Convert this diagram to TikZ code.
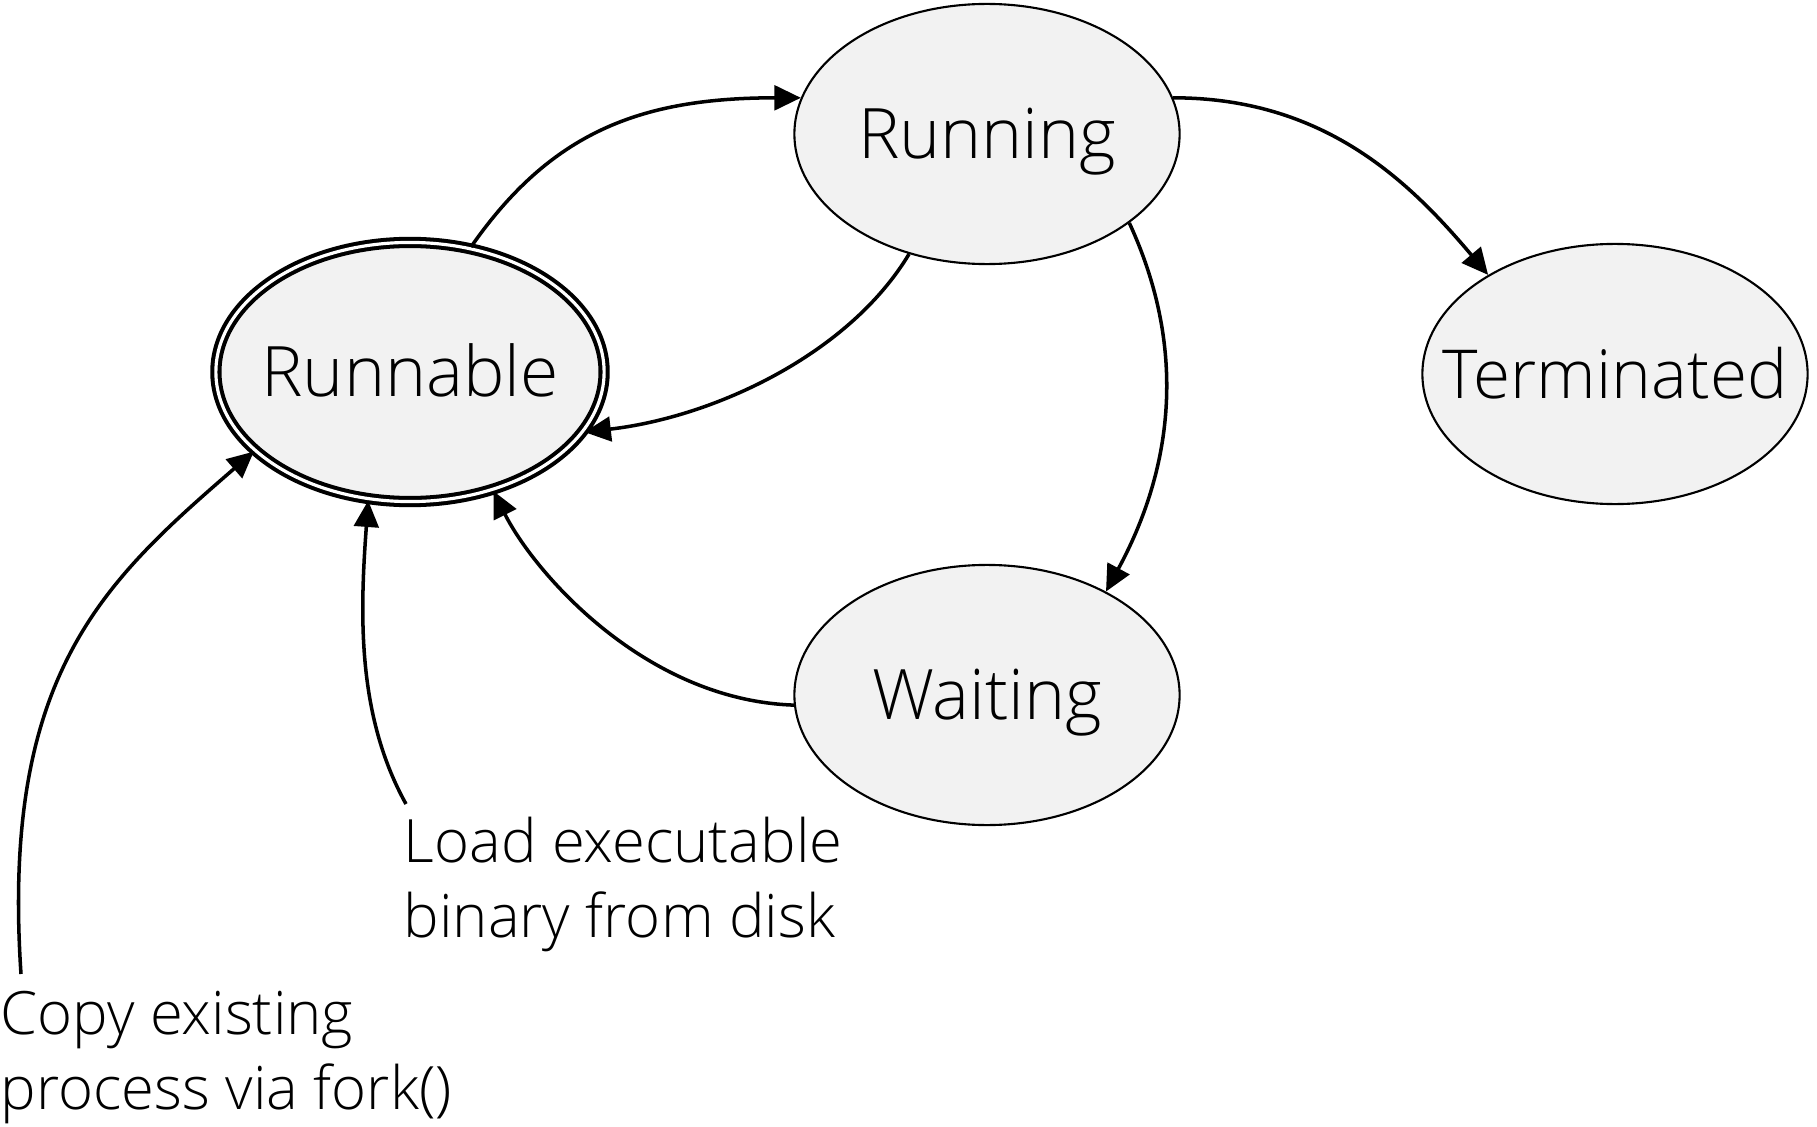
\documentclass[tikz,border=0pt]{standalone}
\usepackage{fontspec}
\setmainfont{Open Sans}[UprightFont=* Light]
\usetikzlibrary{shapes.geometric,arrows.meta}

\definecolor{zustandgrau}{HTML}{F2F2F2}

\tikzset{
	zustand/.style={ellipse, draw=black, line width=0.6pt, fill=zustandgrau,
		minimum width=3.85cm, minimum height=2.6cm, inner sep=0pt,
		font=\fontsize{19.8}{23}\selectfont, text height=14.2pt, text depth=0pt},
	pfeil/.style={line width=1pt, -{Triangle[length=7.5pt,width=7pt]}},
	hinweis/.style={align=left, inner sep=0pt, anchor=north west,
		font=\fontsize{17}{21.4}\selectfont}
}

\begin{document}
\begin{tikzpicture}[x=0.01cm,y=0.01cm]
	\useasboundingbox (0,0) rectangle (1817,1126);

	%Zustände
	\node[zustand] (running) at (987,992) {\makebox[0pt]{Running}};
	\node[zustand, double, line width=1.15pt, double distance=0.9pt,
		minimum width=3.88cm, minimum height=2.59cm] (runnable) at (410,754) {\makebox[0pt]{Runnable}};
	\node[zustand] (terminated) at (1615,752) {\makebox[0pt]{\fontsize{19.2}{23}\selectfont Terminated}};
	\node[zustand] (waiting) at (987,431) {\makebox[0pt]{Waiting}};

	%Beschriftungen
	\node[hinweis] (load) at (403,310) {Load executable\\binary from disk};
	\node[hinweis] (copy) at (0,136) {Copy existing\\process via fork()};

	%Übergänge
	\draw[pfeil] (runnable.64) .. controls +(80,115) and +(-160,0) .. (running.169);
	\draw[pfeil] (running.237) .. controls +(-60,-100) and +(130,15) .. (runnable.341);
	\draw[pfeil] (running.11) .. controls +(150,0) and +(-80,95) .. (terminated.142);
	\draw[pfeil] (running.328) .. controls +(60,-130) and +(65,120) .. (waiting.41);
	\draw[pfeil] (waiting.183) .. controls +(-150,5) and +(40,-80) .. (runnable.305);

	%Neue Prozesse
	\draw[pfeil] ([shift={(3,12)}]load.north west) .. controls +(-50,90) and +(-8,-110) .. (runnable.252);
	\draw[pfeil] ([shift={(21,16)}]copy.north west) .. controls +(-20,300) and +(-150,-130) .. (runnable.207);

\end{tikzpicture}
\end{document}
